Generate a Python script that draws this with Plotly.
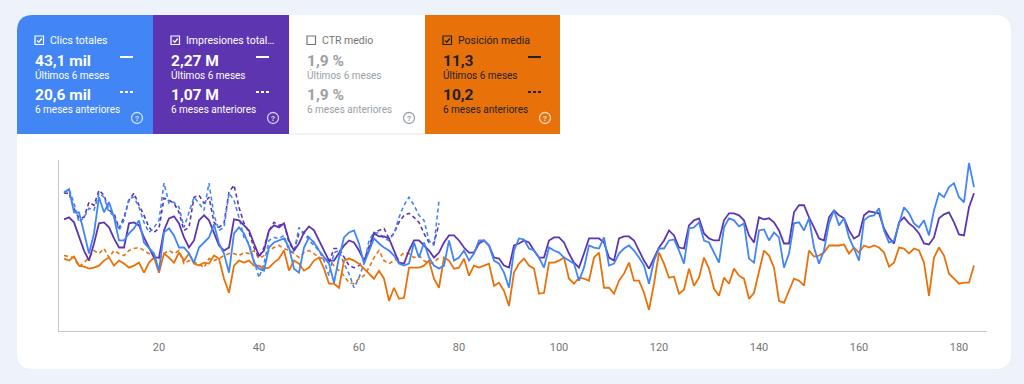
import plotly.graph_objects as go

# ---------------- data (relative heights) ----------------
days_cur = list(range(1, 184))
days_prev = list(range(1, 77))

clicks_cur = [
    137, 141, 118, 118, 98, 77, 97, 133, 118, 128,
    113, 90, 90, 97, 102, 110, 88, 83, 77, 60,
    98, 102, 95, 83, 83, 77, 68, 83, 88, 93,
    106, 87, 77, 58, 97, 103, 97, 85, 68, 62,
    60, 83, 88, 90, 92, 83, 62, 58, 83, 93,
    88, 80, 73, 67, 48, 73, 93, 98, 100, 87,
    67, 80, 92, 87, 83, 80, 75, 67, 65, 67,
    88, 73, 88, 73, 65, 62, 65, 90, 70, 73,
    80, 70, 77, 90, 90, 85, 70, 67, 58, 43,
    80, 92, 91, 82, 80, 73, 63, 83, 80, 78,
    73, 70, 67, 50, 63, 85, 83, 82, 93, 65,
    67, 77, 82, 85, 80, 73, 65, 47, 70, 82,
    82, 90, 91, 80, 67, 102, 103, 108, 90, 88,
    78, 68, 103, 112, 110, 104, 107, 72, 68, 100,
    101, 90, 98, 93, 63, 77, 107, 108, 100, 112,
    83, 67, 80, 107, 120, 105, 112, 93, 82, 70,
    110, 114, 115, 122, 100, 88, 90, 107, 123, 117,
    107, 103, 110, 95, 120, 137, 133, 143, 147, 133,
    128, 167, 143,
]

impressions_cur = [
    111, 113, 108, 95, 80, 70, 87, 107, 108, 103,
    92, 83, 83, 107, 108, 105, 93, 83, 73, 73,
    100, 112, 114, 107, 93, 83, 90, 110, 115, 110,
    98, 85, 80, 83, 111, 110, 105, 100, 87, 75,
    80, 100, 105, 103, 107, 90, 80, 87, 98, 104,
    100, 90, 80, 70, 70, 78, 85, 90, 88, 80,
    70, 80, 97, 94, 94, 92, 80, 68, 67, 80,
    90, 90, 85, 80, 73, 78, 88, 95, 95, 90,
    83, 78, 78, 87, 90, 85, 73, 72, 65, 63,
    85, 87, 90, 88, 80, 73, 73, 90, 93, 93,
    88, 77, 68, 63, 77, 92, 92, 92, 88, 73,
    70, 92, 94, 94, 90, 80, 70, 62, 73, 83,
    90, 100, 95, 83, 82, 105, 110, 112, 97, 92,
    90, 90, 110, 117, 117, 115, 110, 95, 88, 113,
    111, 112, 108, 100, 87, 87, 118, 125, 125, 113,
    103, 92, 90, 113, 120, 115, 112, 100, 92, 95,
    115, 119, 118, 117, 102, 93, 87, 108, 113, 107,
    103, 97, 87, 86, 93, 112, 116, 118, 108, 96,
    95, 123, 137,
]

position_cur = [
    72, 70, 74, 65, 64, 62, 63, 65, 70, 73,
    65, 70, 67, 63, 65, 68, 58, 68, 73, 58,
    77, 73, 68, 78, 70, 77, 67, 65, 68, 67,
    75, 72, 52, 38, 65, 70, 68, 70, 65, 65,
    62, 63, 68, 72, 80, 60, 70, 67, 60, 63,
    70, 73, 62, 47, 47, 43, 70, 72, 70, 67,
    62, 57, 52, 60, 52, 30, 43, 32, 33, 63,
    63, 63, 65, 70, 52, 43, 73, 70, 62, 63,
    72, 55, 65, 63, 65, 67, 45, 48, 40, 25,
    58, 67, 72, 65, 62, 37, 38, 68, 68, 70,
    73, 52, 47, 53, 52, 50, 73, 78, 43, 43,
    37, 50, 57, 68, 50, 50, 38, 21, 47, 78,
    67, 53, 54, 37, 41, 62, 45, 53, 73, 62,
    42, 35, 53, 47, 62, 55, 52, 32, 38, 60,
    80, 75, 63, 30, 28, 40, 52, 50, 45, 80,
    74, 75, 78, 85, 85, 85, 86, 77, 83, 78,
    85, 83, 85, 83, 78, 64, 68, 83, 82, 77,
    82, 80, 68, 35, 73, 83, 75, 57, 52, 47,
    48, 48, 65,
]

clicks_prev = [
    138, 141, 127, 108, 113, 122, 120, 137, 133, 118,
    115, 100, 110, 132, 133, 123, 108, 98, 103, 110,
    147, 127, 128, 123, 103, 118, 133, 127, 120, 147,
    115, 100, 103, 137, 130, 113, 93, 87, 70, 53,
    67, 90, 93, 92, 95, 80, 78, 103, 97, 90,
    85, 80, 70, 55, 78, 80, 67, 57, 43, 53,
    67, 90, 98, 97, 92, 90, 97, 113, 125, 133,
    125, 115, 110, 90, 85, 130,
]

impressions_prev = [
    137, 137, 122, 112, 113, 128, 125, 140, 135, 120,
    117, 102, 113, 130, 137, 125, 115, 103, 98, 102,
    132, 130, 127, 118, 100, 103, 133, 135, 127, 133,
    108, 103, 107, 138, 145, 123, 107, 98, 83, 73,
    83, 100, 108, 105, 107, 88, 80, 97, 98, 93,
    88, 80, 73, 68, 82, 82, 73, 65, 63, 65,
    70, 83, 98, 100, 102, 92, 97, 108, 115, 117,
    113, 108, 97, 88, 87, 107,
]

position_prev = [
    75, 74, 73, 64, 68, 73, 80, 77, 82, 73,
    80, 77, 75, 80, 82, 83, 80, 77, 75, 72,
    77, 80, 77, 80, 67, 70, 68, 67, 63, 72,
    70, 72, 75, 77, 77, 75, 78, 77, 80, 72,
    75, 80, 83, 85, 82, 80, 77, 73, 78, 80,
    77, 73, 72, 70, 65, 60, 55, 48, 47, 52,
    55, 63, 73, 80, 70, 67, 70, 73, 78, 77,
    73, 75, 70, 67, 68, 73,
]

tick_vals = [20, 40, 60, 80, 100, 120, 140, 160, 180]

card_titles = ["Clics totales", "Impresiones total…", "CTR medio", "Posición media"]
card_values_cur = ["43,1 mil", "2,27 M", "1,9 %", "11,3"]
card_values_prev = ["20,6 mil", "1,07 M", "1,9 %", "10,2"]
card_checked = [True, True, False, True]
label_cur = "Últimos 6 meses"
label_prev = "6 meses anteriores"

# ---------------- styling ----------------
W, H = 1024, 384
BLUE = "#4285f4"
PURPLE = "#5e35b1"
ORANGE = "#e8710a"
PAGE_BG = "#eef2fa"
FONT = "Roboto, 'Noto Sans', Arial, sans-serif"

card_fill = [BLUE, PURPLE, "#ffffff", ORANGE]
card_text = ["#ffffff", "#ffffff", "#9aa0a6", "#202124"]
card_title_col = ["#ffffff", "#ffffff", "#757575", "#202124"]
card_icon_col = ["rgba(255,255,255,0.75)", "rgba(255,255,255,0.75)", "#9aa0a6", "rgba(255,255,255,0.75)"]
card_x0 = [17, 153, 289, 425]
card_x1 = [153, 289, 425, 560]
TILE_TOP, TILE_BOT = 15, 134


def X(px):
    return px / W


def Y(py):
    return 1 - py / H


fig = go.Figure()

# previous period (dashed)
for ys, col in [(position_prev, ORANGE), (impressions_prev, PURPLE), (clicks_prev, BLUE)]:
    fig.add_trace(go.Scatter(x=days_prev, y=ys, mode="lines",
                             line=dict(color=col, width=1.6, dash="4px,3px"),
                             hoverinfo="skip", showlegend=False))
# current period (solid)
for ys, col in [(position_cur, ORANGE), (impressions_cur, PURPLE), (clicks_cur, BLUE)]:
    fig.add_trace(go.Scatter(x=days_cur, y=ys, mode="lines",
                             line=dict(color=col, width=1.8),
                             hoverinfo="skip", showlegend=False))

shapes = []
annotations = []


def rounded_path(x0, y0, x1, y1, r, corners=(True, True, True, True)):
    # corners: tl, tr, br, bl (pixel coords)
    tl, tr, br, bl = corners
    p = []
    p.append(f"M {X(x0 + (r if tl else 0))},{Y(y0)}")
    p.append(f"L {X(x1 - (r if tr else 0))},{Y(y0)}")
    if tr:
        p.append(f"Q {X(x1)},{Y(y0)} {X(x1)},{Y(y0 + r)}")
    p.append(f"L {X(x1)},{Y(y1 - (r if br else 0))}")
    if br:
        p.append(f"Q {X(x1)},{Y(y1)} {X(x1 - r)},{Y(y1)}")
    p.append(f"L {X(x0 + (r if bl else 0))},{Y(y1)}")
    if bl:
        p.append(f"Q {X(x0)},{Y(y1)} {X(x0)},{Y(y1 - r)}")
    p.append(f"L {X(x0)},{Y(y0 + (r if tl else 0))}")
    if tl:
        p.append(f"Q {X(x0)},{Y(y0)} {X(x0 + r)},{Y(y0)}")
    p.append("Z")
    return " ".join(p)


# white card
shapes.append(dict(type="path", xref="paper", yref="paper", layer="below",
                   path=rounded_path(17, 15, 1011, 369, 16),
                   fillcolor="#ffffff", line=dict(width=0)))

# metric tiles
for i in range(4):
    x0, x1 = card_x0[i], card_x1[i]
    if i == 0:
        path = rounded_path(x0, TILE_TOP, x1, TILE_BOT, 16, corners=(True, False, False, False))
        shapes.append(dict(type="path", xref="paper", yref="paper", layer="below",
                           path=path, fillcolor=card_fill[i], line=dict(width=0)))
    else:
        shapes.append(dict(type="rect", xref="paper", yref="paper", layer="below",
                           x0=X(x0), x1=X(x1), y0=Y(TILE_BOT), y1=Y(TILE_TOP),
                           fillcolor=card_fill[i], line=dict(width=0)))
    if i == 2:
        shapes.append(dict(type="line", xref="paper", yref="paper",
                           x0=X(x0), x1=X(x1), y0=Y(TILE_BOT), y1=Y(TILE_BOT),
                           line=dict(color="#e6e6e6", width=1)))

    # checkbox
    cb_x0, cb_y0 = x0 + 18, 36
    cbcol = card_title_col[i] if i != 2 else "#757575"
    shapes.append(dict(type="rect", xref="paper", yref="paper",
                       x0=X(cb_x0), x1=X(cb_x0 + 8.5), y0=Y(cb_y0 + 8.5), y1=Y(cb_y0),
                       line=dict(color=cbcol, width=1.2), fillcolor="rgba(0,0,0,0)"))
    if card_checked[i]:
        shapes.append(dict(type="path", xref="paper", yref="paper",
                           path=f"M {X(cb_x0 + 2)},{Y(cb_y0 + 4.4)} L {X(cb_x0 + 3.8)},{Y(cb_y0 + 6.2)} "
                                f"L {X(cb_x0 + 6.8)},{Y(cb_y0 + 2.5)}",
                           line=dict(color=cbcol, width=1.3)))

    # title
    annotations.append(dict(x=X(x0 + 31), y=Y(40.5), xref="paper", yref="paper",
                            text=card_titles[i], showarrow=False, xanchor="left", yanchor="middle",
                            font=dict(family=FONT, size=10.5, color=card_title_col[i])))
    # values
    for vy, txt in [(61, card_values_cur[i]), (95, card_values_prev[i])]:
        annotations.append(dict(x=X(x0 + 16), y=Y(vy), xref="paper", yref="paper",
                                text=f"<b>{txt}</b>", showarrow=False, xanchor="left", yanchor="middle",
                                font=dict(family=FONT, size=15.5, color=card_text[i])))
    for ly, txt in [(75, label_cur), (110, label_prev)]:
        annotations.append(dict(x=X(x0 + 16), y=Y(ly), xref="paper", yref="paper",
                                text=txt, showarrow=False, xanchor="left", yanchor="middle",
                                font=dict(family=FONT, size=10, color=card_text[i])))
    # line-style keys
    if i != 2:
        shapes.append(dict(type="line", xref="paper", yref="paper",
                           x0=X(x0 + 103), x1=X(x0 + 116), y0=Y(57), y1=Y(57),
                           line=dict(color=card_text[i], width=2)))
        shapes.append(dict(type="line", xref="paper", yref="paper",
                           x0=X(x0 + 103), x1=X(x0 + 116), y0=Y(92), y1=Y(92),
                           line=dict(color=card_text[i], width=2, dash="3px,2px")))
    # help icon
    icx, icy, r = x0 + 120, 118, 5.5
    shapes.append(dict(type="circle", xref="paper", yref="paper",
                       x0=X(icx - r), x1=X(icx + r), y0=Y(icy + r), y1=Y(icy - r),
                       line=dict(color=card_icon_col[i], width=1.3), fillcolor="rgba(0,0,0,0)"))
    annotations.append(dict(x=X(icx), y=Y(icy), xref="paper", yref="paper",
                            text="<b>?</b>", showarrow=False, xanchor="center", yanchor="middle",
                            font=dict(family=FONT, size=8, color=card_icon_col[i])))

fig.update_layout(
    width=W, height=H,
    margin=dict(l=0, r=0, t=0, b=0),
    paper_bgcolor=PAGE_BG,
    plot_bgcolor="rgba(0,0,0,0)",
    shapes=shapes,
    annotations=annotations,
    showlegend=False,
    xaxis=dict(domain=[X(59), X(987)], range=[0, 185.6],
               tickvals=tick_vals, ticks="", showgrid=False, zeroline=False,
               showline=True, linecolor="#c6c6c6", linewidth=1.2,
               tickfont=dict(family=FONT, size=11, color="#757575"),
               ticklabelstandoff=6, fixedrange=True),
    yaxis=dict(domain=[Y(331), Y(160)], range=[0, 170],
               showticklabels=False, ticks="", showgrid=False, zeroline=False,
               showline=True, linecolor="#c6c6c6", linewidth=1.2, fixedrange=True),
)

fig.write_html(
    "out.html",
    config={"displayModeBar": False},
    post_script=(
        "document.documentElement.style.margin='0';"
        "document.body.style.margin='0';"
        "document.body.style.padding='0';"
        "document.body.style.overflow='hidden';"
        f"document.body.style.background='{PAGE_BG}';"
    ),
)
